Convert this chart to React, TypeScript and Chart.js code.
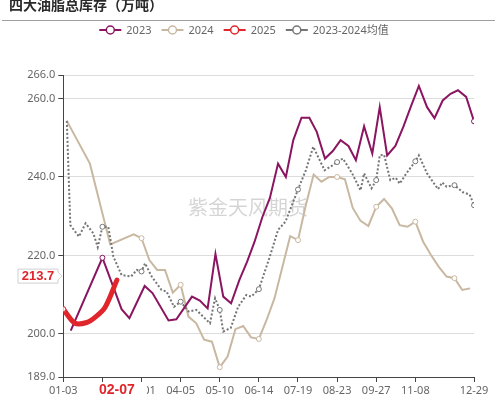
import { useEffect, useRef } from 'react';
import { Chart, registerables } from 'chart.js';

Chart.register(...registerables);

const chartTitle = '四大油脂总库存（万吨）';
const watermarkText = '紫金天风期货';
const seriesNames = ['2023', '2024', '2025', '2023-2024均值'];
const seriesColors = ['#8A1560', '#C9B8A1', '#E0252B', '#757575'];

const xTickPos = [0, 5, 10, 15, 20, 25, 30, 35, 40, 45, 52.5];
const xTickLabels = ['01-03', '01-31', '03-01', '04-05', '05-10', '06-14', '07-19', '08-23', '09-27', '11-08', '12-29'];
const yTickValues = [189, 200, 220, 240, 260, 266];
const latestDate = '02-07';

// [week position on the category axis, 万吨]
const s2023: [number, number][] = [
  [0.95, 200.8], [5, 219.4], [7.45, 206.3], [8.45, 204.0], [10.4, 212.2], [11.4, 210.4],
  [13.45, 203.4], [14.45, 203.7], [16.45, 209.5], [17.45, 208.5], [18.45, 206.5], [19.45, 220.4],
  [20.45, 209.5], [21.45, 207.8], [22.5, 213.7], [23.5, 218.4], [24.45, 223.5], [25.45, 229.8],
  [26.4, 234.6], [27.45, 243.4], [28.45, 240.0], [29.4, 249.4], [30.45, 255.1], [31.45, 255.1],
  [32.4, 251.5], [33.45, 244.7], [34.45, 246.6], [35.45, 249.4], [36.45, 247.9], [37.4, 244.3],
  [38.45, 252.9], [39.5, 246.0], [40.45, 257.8], [41.4, 245.5], [42.45, 247.9], [43.45, 252.7],
  [44.5, 258.3], [45.45, 263.2], [46.5, 257.8], [47.45, 255.0], [48.5, 259.5], [49.5, 261.2],
  [50.45, 262.1], [51.5, 260.4], [52.5, 254.2],
];

const s2024: [number, number][] = [
  [0.45, 254.3], [3.4, 243.4], [6, 222.8], [9, 225.4], [10, 224.4], [11, 218.8], [12, 216.3],
  [13, 216.3], [14, 210.5], [15, 212.5], [16, 204.4], [17, 202.7], [18, 198.5], [19, 198.0],
  [20, 191.5], [21, 194.2], [22, 201.2], [23, 202.0], [24, 199.1], [25, 198.7], [26, 203.6],
  [27, 209.1], [29, 224.9], [30, 223.9], [31, 232.8], [32, 240.6], [33, 238.8], [34, 240.0],
  [35, 240.0], [36, 239.4], [37, 232.1], [38, 228.8], [39, 227.5], [40, 232.4], [41, 234.4],
  [42, 232.0], [43, 227.7], [44, 227.3], [45, 228.6], [46, 223.5], [47, 220.1], [48, 217.1],
  [49, 214.6], [50, 214.2], [51, 211.2], [52, 211.6],
];

const s2025: [number, number][] = [
  [0, 206.3], [1.5, 202.7], [3, 202.9], [4.05, 204.2], [5.35, 206.8], [6.85, 213.7],
];

const sAvg: [number, number][] = [
  [0.45, 254.3], [0.9, 227.7], [2.0, 224.8], [2.85, 228.2], [3.85, 225.6], [4.4, 222.1], [5, 227.3],
  [5.75, 227.3], [6.4, 219.7], [7.45, 215.0], [8.65, 214.6], [9.4, 216.3], [10, 215.9], [10.45, 218.0],
  [11.3, 214.6], [12.55, 211.2], [13.2, 210.8], [14.15, 206.9], [15, 208.2], [16, 205.7], [17, 206.1],
  [18.75, 202.7], [19.4, 209.1], [20, 206.1], [20.45, 200.6], [21.4, 201.5], [22.35, 206.9],
  [23.4, 209.9], [24.05, 209.5], [25, 211.4], [26.4, 219.7], [27.45, 226.5], [28.4, 228.6],
  [30, 236.8], [31, 241.7], [31.95, 247.7], [33.4, 241.7], [34.45, 243.0], [35, 243.8], [35.75, 244.7],
  [36.9, 241.0], [38, 236.6], [38.45, 240.9], [39.4, 237.1], [40, 239.2], [40.45, 245.5], [41, 245.7],
  [41.8, 239.2], [42.5, 239.8], [43, 238.3], [43.85, 240.9], [45, 244.0], [45.45, 245.5], [46.5, 240.9],
  [47.9, 236.9], [48.45, 238.6], [49, 237.5], [50, 237.9], [51.1, 236.1], [51.95, 235.5], [52.5, 232.8],
];

const toXY = (s: [number, number][]) => s.map(([x, y]) => ({ x, y }));
const onTick = (x: number) => x > 0.5 && Math.abs(x - Math.round(x / 5) * 5) < 0.01;

const FONT = '"Noto Sans", "Noto Sans CJK SC", sans-serif';

const decorPlugin = {
  id: 'decor',
  beforeDatasetsDraw(chart: any) {
    const ctx = chart.ctx;
    ctx.save();
    ctx.font = '20px "Noto Sans CJK SC", sans-serif';
    ctx.fillStyle = 'rgba(0,0,0,0.17)';
    ctx.textAlign = 'center';
    ctx.textBaseline = 'middle';
    ctx.fillText(watermarkText, 248, 207);
    ctx.restore();
  },
  afterDraw(chart: any) {
    const ctx = chart.ctx;
    const xs = chart.scales.x;
    const ys = chart.scales.y;
    ctx.save();
    // title
    ctx.font = 'bold 14px "Noto Sans CJK SC", sans-serif';
    ctx.fillStyle = '#2a2a2a';
    ctx.textAlign = 'left';
    ctx.textBaseline = 'middle';
    ctx.fillText(chartTitle, 9, 5);
    ctx.strokeStyle = '#a0a0a0';
    ctx.lineWidth = 1;
    ctx.beginPath();
    ctx.moveTo(2, 20.5);
    ctx.lineTo(495, 20.5);
    ctx.stroke();

    // legend
    ctx.font = '11px ' + FONT;
    const symW = 22, gap = 5, itemGap = 10;
    const widths = seriesNames.map((n) => symW + gap + ctx.measureText(n).width);
    const total = widths.reduce((a, b) => a + b, 0) + itemGap * (widths.length - 1);
    let lx = 244 - total / 2;
    const ly = 30;
    seriesNames.forEach((n, i) => {
      const c = seriesColors[i];
      ctx.strokeStyle = c;
      ctx.lineWidth = 2;
      ctx.beginPath();
      ctx.moveTo(lx, ly);
      ctx.lineTo(lx + symW, ly);
      ctx.stroke();
      ctx.beginPath();
      ctx.arc(lx + symW / 2, ly, 4, 0, Math.PI * 2);
      ctx.fillStyle = '#fff';
      ctx.fill();
      ctx.lineWidth = 1.5;
      ctx.stroke();
      ctx.fillStyle = '#666';
      ctx.textAlign = 'left';
      ctx.textBaseline = 'middle';
      ctx.fillText(n, lx + symW + gap, ly + 0.5);
      lx += widths[i] + itemGap;
    });

    // latest date highlight on x axis
    const last = s2025[s2025.length - 1];
    const px = xs.getPixelForValue(last[0]);
    ctx.fillStyle = '#fff';
    ctx.fillRect(px - 30, 383, 60, 15);
    ctx.font = 'bold 14px "Liberation Sans", Arial, sans-serif';
    ctx.fillStyle = '#E0252B';
    ctx.textAlign = 'center';
    ctx.textBaseline = 'middle';
    ctx.fillText(latestDate, px, 390);

    // latest value tag on y axis
    const py = ys.getPixelForValue(last[1]) - 4;
    ctx.beginPath();
    ctx.moveTo(18, py - 7);
    ctx.lineTo(58, py - 7);
    ctx.lineTo(58, py - 4);
    ctx.lineTo(62, py);
    ctx.lineTo(58, py + 4);
    ctx.lineTo(58, py + 7);
    ctx.lineTo(18, py + 7);
    ctx.closePath();
    ctx.fillStyle = '#fff';
    ctx.fill();
    ctx.strokeStyle = '#d0d0d0';
    ctx.lineWidth = 1;
    ctx.stroke();
    ctx.font = 'bold 13px "Liberation Sans", Arial, sans-serif';
    ctx.fillStyle = '#E0252B';
    ctx.fillText(last[1].toFixed(1), 38, py + 0.5);
    ctx.restore();
  },
};

export default function App() {
  const ref = useRef<HTMLCanvasElement | null>(null);
  useEffect(() => {
    document.body.style.margin = '0';
    const canvas = ref.current;
    if (!canvas) return;
    const mk = (
      i: number,
      data: [number, number][],
      extra: any,
      marker: (idx: number, x: number) => boolean
    ) => ({
      label: seriesNames[i],
      data: toXY(data),
      borderColor: seriesColors[i],
      backgroundColor: seriesColors[i],
      borderWidth: 2,
      tension: 0,
      fill: false,
      pointBackgroundColor: '#fff',
      pointBorderColor: seriesColors[i],
      pointBorderWidth: 1,
      pointRadius: (c: any) => (marker(c.dataIndex, data[c.dataIndex] ? data[c.dataIndex][0] : -1) ? 2.5 : 0),
      pointHoverRadius: 0,
      ...extra,
    });
    const chart = new Chart(canvas, {
      type: 'line',
      data: {
        datasets: [
          mk(2, s2025, { borderWidth: 5, tension: 0.3, borderCapStyle: 'round', borderJoinStyle: 'round', order: 0, pointBorderWidth: 1 },
            (idx) => idx === 0),
          mk(0, s2023, { order: 1 }, (idx, x) => onTick(x) || idx === s2023.length - 1),
          mk(3, sAvg, { order: 2, borderDash: [2, 2], borderWidth: 2 }, (idx, x) => onTick(x) || idx === sAvg.length - 1),
          mk(1, s2024, { order: 3 }, (idx, x) => onTick(x)),
        ],
      },
      options: {
        responsive: false,
        animation: false,
        devicePixelRatio: 1,
        layout: { padding: { left: 0, right: 21, top: 75, bottom: 0 } },
        plugins: { legend: { display: false }, title: { display: false }, tooltip: { enabled: false } },
        events: [],
        scales: {
          x: {
            type: 'linear',
            min: 0,
            max: 52.5,
            afterBuildTicks: (axis: any) => {
              axis.ticks = xTickPos.map((v) => ({ value: v }));
            },
            afterFit: (axis: any) => {
              axis.height = 22;
            },
            ticks: {
              autoSkip: false,
              maxRotation: 0,
              padding: 2,
              color: '#666',
              font: { family: FONT, size: 11 },
              callback: (_v: any, i: number) => xTickLabels[i],
            },
            grid: { drawOnChartArea: false, drawTicks: true, tickLength: 5, tickColor: '#444' },
            border: { display: true, color: '#444', width: 1 },
          },
          y: {
            min: 189,
            max: 266,
            afterBuildTicks: (axis: any) => {
              axis.ticks = yTickValues.map((v) => ({ value: v }));
            },
            afterFit: (axis: any) => {
              axis.width = 63.3;
            },
            ticks: {
              padding: 3,
              color: '#666',
              font: { family: FONT, size: 11 },
              callback: (v: any) => Number(v).toFixed(1),
            },
            grid: { color: '#dcdcdc', drawTicks: true, tickLength: 5, tickColor: '#444' },
            border: { display: true, color: '#444', width: 1 },
          },
        },
      },
      plugins: [decorPlugin],
    } as any);
    return () => chart.destroy();
  }, []);
  return (
    <div style={{ width: 495, height: 399, position: 'relative' }}>
      <canvas ref={ref} width={495} height={399} style={{ display: 'block' }} />
    </div>
  );
}
